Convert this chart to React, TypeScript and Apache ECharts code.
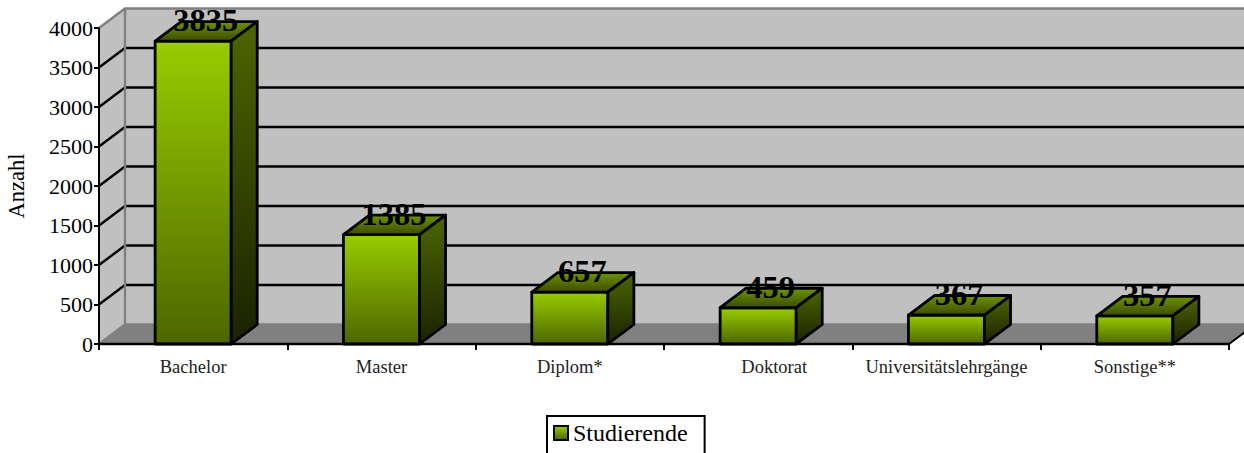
import React, { useEffect, useRef } from "react";
import * as echarts from "echarts";

const categories = ["Bachelor", "Master", "Diplom*", "Doktorat", "Universitätslehrgänge", "Sonstige**"];
const studierende = [3835, 1385, 657, 459, 367, 357];
const yTicks = [0, 500, 1000, 1500, 2000, 2500, 3000, 3500, 4000];
const seriesName = "Studierende";
const FONT = "'Liberation Serif', serif";
const DX = 26;
const DY = 19.5;

function vGrad(a: string, b: string) {
  return new echarts.graphic.LinearGradient(0, 0, 0, 1, [
    { offset: 0, color: a },
    { offset: 1, color: b },
  ]);
}

function renderWalls(params: any, api: any) {
  const sys = params.coordSys;
  const left = sys.x;
  const right = sys.x + sys.width;
  const y0 = api.coord([0, 0])[1];
  const yTop = api.coord([0, 4000])[1];
  const children: any[] = [
    { type: "polygon", shape: { points: [[left + DX, yTop - DY], [right + DX, yTop - DY], [right + DX, y0 - DY], [left + DX, y0 - DY]] }, style: { fill: "#C0C0C0" } },
    { type: "polygon", shape: { points: [[left, yTop], [left + DX, yTop - DY], [left + DX, y0 - DY], [left, y0]] }, style: { fill: "#C0C0C0" } },
    { type: "polygon", shape: { points: [[left, y0], [left + DX, y0 - DY], [right + DX, y0 - DY], [right, y0]] }, style: { fill: "#808080" } },
  ];
  yTicks.forEach((v) => {
    const y = api.coord([0, v])[1];
    const isEdge = v === 0 || v === 4000;
    const color = isEdge ? "#808080" : "#000000";
    children.push({
      type: "polyline",
      shape: { points: [[left, y], [left + DX, y - DY], [right + DX, y - DY]] },
      style: { stroke: color, lineWidth: 2.4, fill: "none" },
    });
  });
  children.push({
    type: "line",
    shape: { x1: left + DX, y1: yTop - DY, x2: left + DX, y2: y0 - DY },
    style: { stroke: "#808080", lineWidth: 2.4 },
  });
  children.push({
    type: "line",
    shape: { x1: right, y1: y0, x2: right + DX, y2: y0 - DY },
    style: { stroke: "#000000", lineWidth: 2 },
  });
  return { type: "group", children };
}

function renderBar(params: any, api: any) {
  const idx = api.value(0);
  const val = api.value(1);
  const top = api.coord([idx, val]);
  const base = api.coord([idx, 0]);
  const w = api.size([1, 0])[0] * 0.404;
  const x1 = top[0] - w / 2;
  const x2 = top[0] + w / 2;
  const stroke = { stroke: "#000000", lineWidth: 2.8, lineJoin: "round" };
  return {
    type: "group",
    children: [
      {
        type: "polygon",
        shape: { points: [[x1, top[1]], [x2, top[1]], [x2, base[1]], [x1, base[1]]] },
        style: { fill: vGrad("#99CC00", "#4D6600"), ...stroke },
      },
      {
        type: "polygon",
        shape: { points: [[x1, top[1]], [x1 + DX, top[1] - DY], [x2 + DX, top[1] - DY], [x2, top[1]]] },
        style: { fill: vGrad("#6F9400", "#3A4D00"), ...stroke },
      },
      {
        type: "polygon",
        shape: { points: [[x2, top[1]], [x2 + DX, top[1] - DY], [x2 + DX, base[1] - DY], [x2, base[1]]] },
        style: { fill: vGrad("#4D6600", "#1A2200"), ...stroke },
      },
      {
        type: "text",
        style: {
          x: top[0] + 12.5,
          y: top[1] - 21,
          text: String(val),
          fill: "#000000",
          font: `bold 32.5px ${FONT}`,
          align: "center",
          verticalAlign: "middle",
        },
      },
    ],
  };
}

export default function App() {
  const ref = useRef<HTMLDivElement>(null);
  useEffect(() => {
    const chart = echarts.init(ref.current!, undefined, { renderer: "svg" });
    chart.setOption({
      animation: false,
      backgroundColor: "#FFFFFF",
      grid: { left: 99, right: 15, top: 28, height: 316, containLabel: false, outerBoundsMode: "none" },
      legend: {
        data: [{ name: seriesName, icon: "rect" }],
        left: 547,
        top: 416,
        orient: "horizontal",
        itemWidth: 14,
        itemHeight: 14,
        itemGap: 4,
        padding: [5, 17, 30, 6],
        borderColor: "#000000",
        borderWidth: 2,
        backgroundColor: "#FFFFFF",
        textStyle: { fontFamily: FONT, fontSize: 24, color: "#000000" },
      },
      xAxis: {
        type: "category",
        data: categories.map((c) =>
          c === "Doktorat" ? { value: c, textStyle: { padding: [0, 0, 0, 32] } } : c
        ),
        z: 6,
        axisLine: { show: true, onZero: false, lineStyle: { color: "#000000", width: 2.4 } },
        axisTick: { show: true, alignWithLabel: false, interval: 0, length: 6, lineStyle: { color: "#000000", width: 2 } },
        axisLabel: { interval: 0, fontFamily: FONT, fontSize: 18.5, color: "#222222", margin: 13 },
        splitLine: { show: false },
      },
      yAxis: {
        type: "value",
        min: 0,
        max: 4000,
        interval: 500,
        z: 6,
        name: "Anzahl",
        nameLocation: "middle",
        nameGap: 71,
        nameTextStyle: { fontFamily: FONT, fontSize: 22.5, color: "#000000" },
        axisLine: { show: true, lineStyle: { color: "#000000", width: 2 } },
        axisTick: { show: true, length: 5, lineStyle: { color: "#000000", width: 2 } },
        axisLabel: {
          fontFamily: FONT,
          fontSize: 22,
          color: "#000000",
          margin: 6,
          formatter: (v: number) => String(v),
        },
        splitLine: { show: false },
      },
      series: [
        {
          type: "custom",
          name: "walls",
          z: 1,
          silent: true,
          clip: false,
          renderItem: renderWalls,
          data: [[0, 0]],
          encode: { x: 0, y: 1 },
        },
        {
          type: "custom",
          name: seriesName,
          z: 4,
          clip: false,
          renderItem: renderBar,
          itemStyle: { color: vGrad("#99CC00", "#4D6600"), borderColor: "#000000", borderWidth: 2 },
          data: studierende.map((v, i) => [i, v]),
          encode: { x: 0, y: 1 },
        },
      ],
    });
    return () => chart.dispose();
  }, []);
  return (
    <div
      ref={ref}
      style={{ position: "absolute", left: 0, top: 0, width: 1244, height: 453, overflow: "hidden" }}
    />
  );
}
